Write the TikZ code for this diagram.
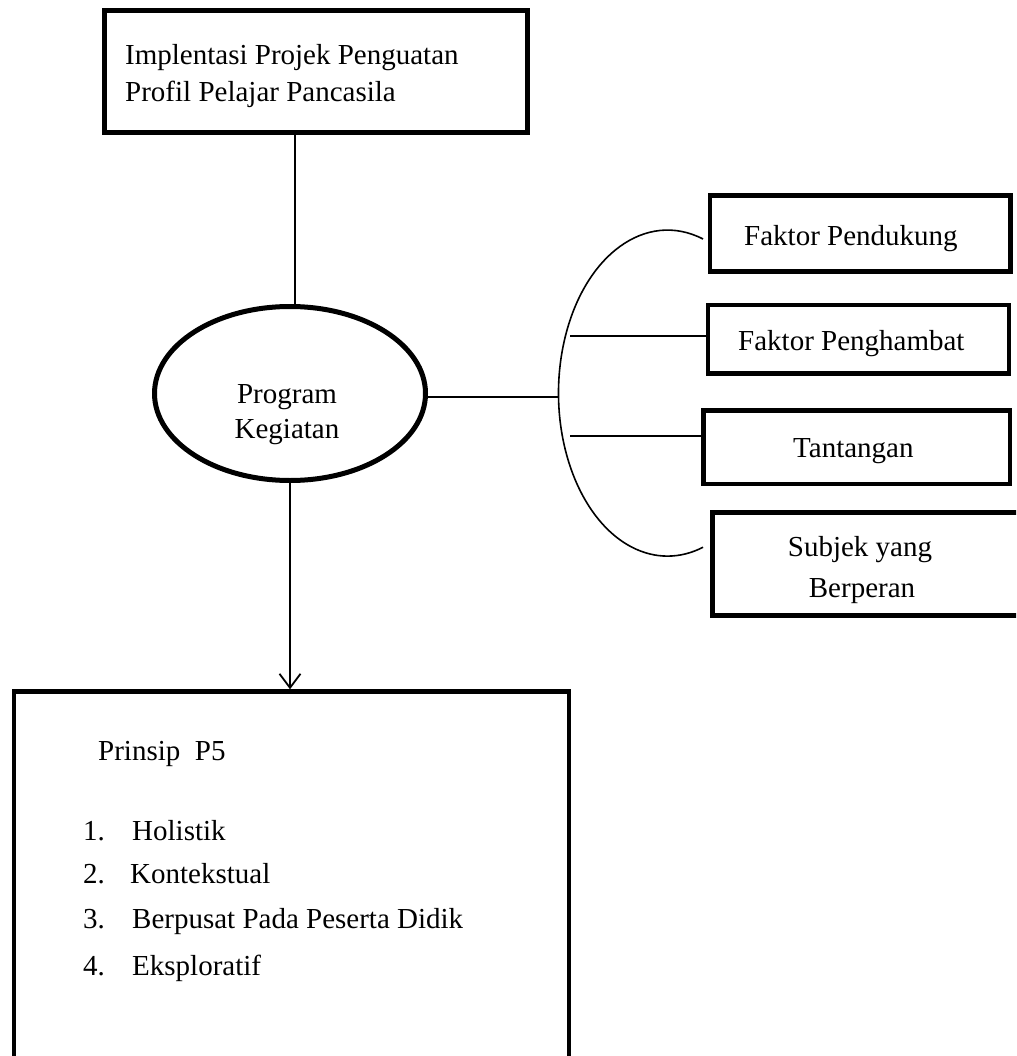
\documentclass[tikz,border=0pt]{standalone}
\usepackage{fontspec}
\setmainfont{Liberation Serif}
\usetikzlibrary{arrows.meta,shapes.geometric}
\begin{document}
\begin{tikzpicture}[x=1pt,y=-1pt,
  thickbox/.style={draw, rectangle, line width=4.8pt, inner sep=0pt},
  conn/.style={line width=1.8pt},
  lbl/.style={font=\fontsize{29}{35}\selectfont, inner sep=0pt, anchor=base west},
  lblc/.style={font=\fontsize{29}{35}\selectfont, inner sep=0pt, anchor=base}
]
\useasboundingbox (0,0) rectangle (1016,1056);
\clip (0,0) rectangle (1016,1056);

% top box
\node[thickbox, minimum width=423pt, minimum height=122pt] (top) at (316,71.5) {};
\node[lbl] (top1) at (125,65) {Implentasi Projek Penguatan};
\node[lbl] (top2) at (125,102) {Profil Pelajar Pancasila};

% ellipse
\node[draw, ellipse, line width=5pt, minimum width=271pt, minimum height=174pt, inner sep=0pt] (prog) at (290,393.5) {};
\node[lblc] (prog1) at (287,403) {Program};
\node[lblc] (prog2) at (287,438) {Kegiatan};

\coordinate (tl) at (295,0);
\draw[conn] (top.south -| tl) -- (prog.north -| tl);

% right boxes
\node[thickbox, minimum width=300.5pt, minimum height=76pt] (b1) at (860.25,233.4) {};
\node[thickbox, minimum width=301pt, minimum height=68.5pt] (b2) at (858.5,339.25) {};
\node[thickbox, minimum width=306.5pt, minimum height=73.5pt] (b3) at (856.75,447.25) {};
\node[thickbox, minimum width=330pt, minimum height=103pt] (b4) at (877.5,564) {};
\node[lbl] (t1) at (744,246) {Faktor Pendukung};
\node[lbl] (t2) at (738,350) {Faktor Penghambat};
\node[lbl] (t3) at (793,457.5) {Tantangan};
\node[lblc] (t4a) at (860,556) {Subjek yang};
\node[lblc] (t4b) at (862,597) {Berperan};

% bracket
\coordinate (brk) at (558.5,397);
\coordinate (arcTop) at (703,239);
\draw[conn, line width=1.6pt] (arcTop) arc[start angle=-71, end angle=-289, x radius=109, y radius=163];
\draw[conn] (prog.east |- brk) -- (brk);
\coordinate (h2) at (570,336);
\coordinate (h3) at (570,436);
\draw[conn] (h2) -- (h2 -| b2.west);
\draw[conn] (h3) -- (h3 -| b3.west);

% bottom box
\node[thickbox, minimum width=555pt, minimum height=378pt] (bot) at (291.5,880.7) {};
\draw[conn, -{Straight Barb[length=14pt,width=21pt]}] (prog.south) -- (prog.south |- bot.north);

\node[lbl] (p5) at (98,760) {Prinsip~~P5};
\node[lbl] (n1) at (83,840) {1.};
\node[lbl] (i1) at (132,840) {Holistik};
\node[lbl] (n2) at (83,883) {2.};
\node[lbl] (i2) at (130,883) {Kontekstual};
\node[lbl] (n3) at (83,928) {3.};
\node[lbl] (i3) at (132,928) {Berpusat Pada Peserta Didik};
\node[lbl] (n4) at (83,975) {4.};
\node[lbl] (i4) at (132,975) {Eksploratif};
\end{tikzpicture}
\end{document}
